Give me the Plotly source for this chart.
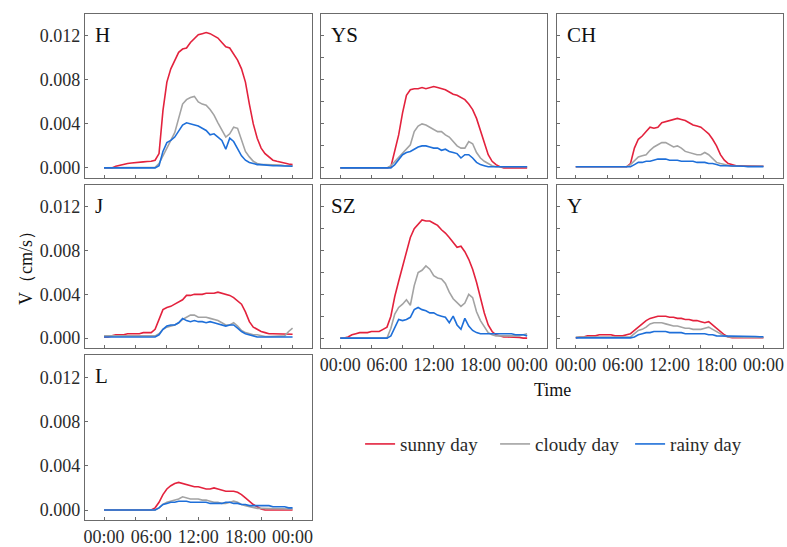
import plotly.graph_objects as go

# ---------------- data (half-hourly, 00:00 .. 24:00) ----------------
hours = [i * 0.5 for i in range(49)]
panels = ["H", "YS", "CH", "J", "SZ", "Y", "L"]

H_sunny = [0, 0, 0, 0.00015, 0.00025, 0.00032, 0.0004, 0.00045, 0.0005, 0.00052,
           0.00055, 0.00058, 0.0006, 0.0007, 0.0013, 0.0052, 0.0078, 0.0090, 0.0098, 0.0105,
           0.0108, 0.0109, 0.0114, 0.0118, 0.0121, 0.0122, 0.0123, 0.0122, 0.0120, 0.0118,
           0.0114, 0.0110, 0.0109, 0.0104, 0.0098, 0.0090, 0.0078, 0.0058, 0.0040, 0.0027,
           0.0018, 0.0013, 0.0010, 0.0007, 0.0006, 0.0005, 0.0004, 0.00035, 0.0003]
H_cloudy = [0, 0, 0, 0, 0, 0, 0, 0, 0, 0,
            0, 0, 0, 0.00005, 0.0004, 0.0011, 0.0017, 0.0024, 0.0032, 0.0045,
            0.0058, 0.0062, 0.0064, 0.0065, 0.0060, 0.0058, 0.0057, 0.0053, 0.0048, 0.0041,
            0.0034, 0.0028, 0.0031, 0.0037, 0.0036, 0.0025, 0.0015, 0.0010, 0.0006, 0.0004,
            0.0003, 0.0003, 0.0003, 0.0003, 0.00025, 0.00025, 0.0002, 0.0002, 0.0002]
H_rainy = [0, 0, 0, 0, 0, 0, 0, 0, 0, 0,
           0, 0, 0, 0, 0.0002, 0.0015, 0.0023, 0.0025, 0.0028, 0.0034,
           0.0039, 0.0041, 0.0040, 0.0039, 0.0038, 0.0036, 0.0034, 0.0030, 0.0031, 0.0028,
           0.0025, 0.0017, 0.0027, 0.0024, 0.0017, 0.0011, 0.0007, 0.0005, 0.0004, 0.0003,
           0.0003, 0.00025, 0.00025, 0.0002, 0.0002, 0.0002, 0.00015, 0.00015, 0.00015]

YS_sunny = [0, 0, 0, 0, 0, 0, 0, 0, 0, 0,
            0, 0, 0, 0.0001, 0.0015, 0.0030, 0.0050, 0.0066, 0.0071, 0.0072,
            0.0072, 0.0073, 0.0072, 0.0073, 0.0074, 0.0073, 0.0072, 0.0071, 0.0069, 0.0067,
            0.0066, 0.0064, 0.0062, 0.0058, 0.0053, 0.0045, 0.0034, 0.0022, 0.0012, 0.0006,
            0.0003, 0.0001, 0, 0, 0, 0, 0, 0, 0]
YS_cloudy = [0, 0, 0, 0, 0, 0, 0, 0, 0, 0,
             0, 0, 0, 0.0002, 0.0006, 0.0010, 0.0014, 0.0017, 0.0021, 0.0033,
             0.0038, 0.0040, 0.0039, 0.0037, 0.0035, 0.0033, 0.0033, 0.0030, 0.0028, 0.0024,
             0.0020, 0.0018, 0.0018, 0.0024, 0.0022, 0.0014, 0.0009, 0.0006, 0.0004, 0.0002,
             0.0001, 0.0001, 0.0001, 0.0001, 0.0001, 0.0001, 0.0001, 0.0001, 0.0001]
YS_rainy = [0, 0, 0, 0, 0, 0, 0, 0, 0, 0,
            0, 0, 0, 0, 0.0003, 0.0008, 0.0012, 0.0014, 0.0015, 0.0017,
            0.0019, 0.0020, 0.0020, 0.0019, 0.0018, 0.0018, 0.0016, 0.0017, 0.0015, 0.0014,
            0.0013, 0.0009, 0.0012, 0.0012, 0.0009, 0.0005, 0.0003, 0.0002, 0.0001, 0.0001,
            0.0001, 0.0001, 0.0001, 0.0001, 0.0001, 0.0001, 0.0001, 0.0001, 0.0001]

CH_sunny = [0.0001, 0.0001, 0.0001, 0.0001, 0.0001, 0.0001, 0.0001, 0.0001, 0.0001, 0.0001,
            0.0001, 0.0001, 0.0001, 0.0001, 0.0004, 0.0018, 0.0026, 0.0029, 0.0033, 0.0037,
            0.0036, 0.0037, 0.0041, 0.0042, 0.0043, 0.0044, 0.0045, 0.0044, 0.0043, 0.0041,
            0.0039, 0.0038, 0.0037, 0.0034, 0.0031, 0.0026, 0.0020, 0.0012, 0.0007, 0.0004,
            0.0003, 0.0002, 0.0002, 0.0002, 0.00015, 0.00015, 0.00015, 0.00015, 0.00015]
CH_cloudy = [0.0001, 0.0001, 0.0001, 0.0001, 0.0001, 0.0001, 0.0001, 0.0001, 0.0001, 0.0001,
             0.0001, 0.0001, 0.0001, 0.0001, 0.0003, 0.0007, 0.0010, 0.0011, 0.0012, 0.0016,
             0.0019, 0.0021, 0.0023, 0.0023, 0.0021, 0.0019, 0.0020, 0.0018, 0.0015, 0.0014,
             0.0013, 0.0012, 0.0012, 0.0014, 0.0012, 0.0008, 0.0005, 0.0004, 0.0003, 0.0002,
             0.00015, 0.00015, 0.00015, 0.00015, 0.00015, 0.00015, 0.00015, 0.00015, 0.00015]
CH_rainy = [0.0001, 0.0001, 0.0001, 0.0001, 0.0001, 0.0001, 0.0001, 0.0001, 0.0001, 0.0001,
            0.0001, 0.0001, 0.0001, 0.0001, 0.0001, 0.0003, 0.0005, 0.0005, 0.0006, 0.0006,
            0.0007, 0.0008, 0.0008, 0.0008, 0.0007, 0.0007, 0.0007, 0.0006, 0.0006, 0.0006,
            0.0006, 0.0005, 0.0005, 0.0005, 0.0004, 0.0004, 0.0003, 0.0002, 0.0002, 0.0002,
            0.0002, 0.00015, 0.00015, 0.00015, 0.00012, 0.00012, 0.00012, 0.00012, 0.00012]

J_sunny = [0.0001, 0.0001, 0.0002, 0.0003, 0.0003, 0.0003, 0.0004, 0.0004, 0.0004, 0.0004,
           0.0005, 0.0005, 0.0005, 0.0008, 0.0018, 0.0026, 0.0028, 0.0029, 0.0031, 0.0033,
           0.0035, 0.0039, 0.0039, 0.0040, 0.0040, 0.0040, 0.0041, 0.0041, 0.0041, 0.0042,
           0.0041, 0.0040, 0.0039, 0.0037, 0.0034, 0.0031, 0.0024, 0.0015, 0.0010, 0.0008,
           0.0006, 0.0005, 0.0004, 0.0004, 0.0004, 0.00035, 0.00035, 0.00035, 0.00035]
J_cloudy = [0.0002, 0.0002, 0.0002, 0.0002, 0.0002, 0.0002, 0.0002, 0.0002, 0.0002, 0.0002,
            0.0002, 0.0002, 0.0002, 0.0002, 0.0004, 0.0008, 0.0010, 0.0011, 0.0012, 0.0014,
            0.0017, 0.0019, 0.0021, 0.0021, 0.0019, 0.0019, 0.0019, 0.0018, 0.0017, 0.0016,
            0.0014, 0.0012, 0.0012, 0.0014, 0.0011, 0.0007, 0.0005, 0.0004, 0.0003, 0.0003,
            0.0002, 0.00015, 0.00015, 0.00015, 0.00015, 0.00015, 0.0002, 0.0006, 0.0009]
J_rainy = [0.0001, 0.0001, 0.0001, 0.0001, 0.0001, 0.0001, 0.0001, 0.0001, 0.0001, 0.0001,
           0.0001, 0.0001, 0.0001, 0.0001, 0.0003, 0.0008, 0.0011, 0.0012, 0.0012, 0.0014,
           0.0018, 0.0016, 0.0015, 0.0016, 0.0015, 0.0015, 0.0014, 0.0015, 0.0014, 0.0013,
           0.0012, 0.0011, 0.0012, 0.0012, 0.0009, 0.0006, 0.0004, 0.0003, 0.0002, 0.0001,
           0.0001, 0.0001, 0.0001, 0.0001, 0.0001, 0.0001, 0.0001, 0.0001, 0.0001]

SZ_sunny = [0, 0, 0.0001, 0.0003, 0.0004, 0.0005, 0.0005, 0.0005, 0.0006, 0.0006,
            0.0006, 0.0008, 0.0010, 0.0020, 0.0038, 0.0052, 0.0066, 0.0080, 0.0092, 0.0100,
            0.0104, 0.0108, 0.0107, 0.0107, 0.0105, 0.0103, 0.0099, 0.0096, 0.0092, 0.0088,
            0.0083, 0.0084, 0.0079, 0.0072, 0.0063, 0.0051, 0.0036, 0.0023, 0.0012, 0.0006,
            0.0003, 0.0002, 0.0001, 0.0001, 0.0001, 0.00005, 0.00005, 0, 0]
SZ_cloudy = [0, 0, 0, 0, 0, 0, 0, 0, 0, 0,
             0, 0, 0, 0.0009, 0.0022, 0.0028, 0.0031, 0.0035, 0.0030, 0.0048,
             0.0060, 0.0062, 0.0066, 0.0063, 0.0057, 0.0055, 0.0054, 0.0050, 0.0042, 0.0036,
             0.0032, 0.0029, 0.0032, 0.0040, 0.0037, 0.0024, 0.0016, 0.0010, 0.0005, 0.0003,
             0.0002, 0.0002, 0.0002, 0.0002, 0.0002, 0.0002, 0.0002, 0.0003, 0.0004]
SZ_rainy = [0, 0, 0, 0, 0, 0, 0, 0, 0, 0,
            0, 0, 0, 0.0002, 0.0010, 0.0017, 0.0016, 0.0017, 0.0019, 0.0026,
            0.0028, 0.0026, 0.0025, 0.0023, 0.0023, 0.0021, 0.0020, 0.0019, 0.0014, 0.0020,
            0.0012, 0.0008, 0.0018, 0.0011, 0.0007, 0.0005, 0.0004, 0.0004, 0.0004, 0.0004,
            0.0004, 0.0004, 0.0004, 0.0004, 0.0004, 0.0003, 0.0003, 0.0003, 0.0002]

Y_sunny = [0, 0.0001, 0.0001, 0.0002, 0.0002, 0.0002, 0.0003, 0.0003, 0.0003, 0.0003,
           0.0002, 0.0002, 0.0002, 0.0003, 0.0004, 0.0007, 0.0010, 0.0013, 0.0016, 0.0018,
           0.0019, 0.0020, 0.0020, 0.0020, 0.0019, 0.0019, 0.0018, 0.0018, 0.0017, 0.0017,
           0.0016, 0.0016, 0.0015, 0.0014, 0.0015, 0.0012, 0.0009, 0.0006, 0.0003, 0.0001,
           0.00003, 0.00003, 0.00003, 0.00003, 0.00003, 0.00003, 0.00003, 0.00003, 0.00003]
Y_cloudy = [0.0001, 0.0001, 0.0001, 0.0001, 0.0001, 0.0001, 0.0001, 0.0001, 0.0001, 0.0001,
            0.0001, 0.0001, 0.0001, 0.0001, 0.0001, 0.0004, 0.0007, 0.0008, 0.0010, 0.0013,
            0.0014, 0.0014, 0.0014, 0.0013, 0.0012, 0.0011, 0.0011, 0.0010, 0.0009, 0.0009,
            0.0008, 0.0008, 0.0008, 0.0009, 0.0010, 0.0008, 0.0006, 0.0004, 0.0002, 0.0001,
            0.0001, 0.0001, 0.0001, 0.00008, 0.00008, 0.00006, 0.00005, 0.00005, 0.00005]
Y_rainy = [0.00002, 0.00002, 0.00002, 0.00002, 0.00002, 0.00002, 0.00002, 0.00002, 0.00002, 0.00002,
           0.00002, 0.00002, 0.00002, 0.00002, 0.00002, 0.0001, 0.0003, 0.0004, 0.0005, 0.0005,
           0.0006, 0.0006, 0.0006, 0.0006, 0.0005, 0.0005, 0.0005, 0.0005, 0.0004, 0.0004,
           0.0004, 0.0004, 0.0004, 0.0004, 0.0003, 0.0003, 0.0002, 0.0002, 0.0002, 0.0002,
           0.0002, 0.0002, 0.0002, 0.0002, 0.0002, 0.00015, 0.00015, 0.00012, 0.00012]

L_sunny = [0, 0, 0, 0, 0, 0, 0, 0, 0, 0,
           0, 0, 0, 0.0002, 0.0007, 0.0014, 0.0019, 0.0022, 0.0024, 0.0025,
           0.0024, 0.0023, 0.0022, 0.0021, 0.0021, 0.0020, 0.0019, 0.0019, 0.0020, 0.0019,
           0.0018, 0.0017, 0.0017, 0.0017, 0.0016, 0.0014, 0.0011, 0.0008, 0.0005, 0.0003,
           0.0001, 0, 0, 0, 0, 0, 0, 0, 0]
L_cloudy = [0, 0, 0, 0, 0, 0, 0, 0, 0, 0,
            0, 0, 0, 0, 0.0002, 0.0005, 0.0007, 0.0008, 0.0009, 0.0010,
            0.0012, 0.0011, 0.0010, 0.0010, 0.0010, 0.0009, 0.0009, 0.0008, 0.0007, 0.0007,
            0.0006, 0.0006, 0.0007, 0.0008, 0.0007, 0.0005, 0.0004, 0.0003, 0.0002, 0.00015,
            0.00015, 0.00015, 0.00012, 0.00012, 0.0001, 0.0001, 0.0001, 0.0001, 0.0001]
L_rainy = [0, 0, 0, 0, 0, 0, 0, 0, 0, 0,
           0, 0, 0, 0, 0.0002, 0.0005, 0.0006, 0.0007, 0.0007, 0.0008,
           0.0008, 0.0008, 0.0007, 0.0007, 0.0007, 0.0007, 0.0007, 0.0006, 0.0006, 0.0006,
           0.0006, 0.0007, 0.0007, 0.0006, 0.0006, 0.0005, 0.0005, 0.0004, 0.0004, 0.0004,
           0.0004, 0.0004, 0.0004, 0.0003, 0.0003, 0.0003, 0.0003, 0.0002, 0.0002]

series_names = ["sunny day", "cloudy day", "rainy day"]
series_colors = ["#E3223D", "#A3A3A3", "#1E6FD9"]
y_tick_vals = [0, 0.004, 0.008, 0.012]
y_tick_text = ["0.000", "0.004", "0.008", "0.012"]
x_tick_vals = [0, 6, 12, 18, 24]
x_tick_text = ["00:00", "06:00", "12:00", "18:00", "00:00"]
x_minor_vals = [0, 4, 8, 12, 16, 20, 24]
y_minor_vals = [0, 0.002, 0.004, 0.006, 0.008, 0.010, 0.012]

data = {
    "H": [H_sunny, H_cloudy, H_rainy],
    "YS": [YS_sunny, YS_cloudy, YS_rainy],
    "CH": [CH_sunny, CH_cloudy, CH_rainy],
    "J": [J_sunny, J_cloudy, J_rainy],
    "SZ": [SZ_sunny, SZ_cloudy, SZ_rainy],
    "Y": [Y_sunny, Y_cloudy, Y_rainy],
    "L": [L_sunny, L_cloudy, L_rainy],
}
for k, v in data.items():
    for s in v:
        assert len(s) == 49, k

# ---------------- layout ----------------
W, Hh = 787, 547
col_px = [(84, 312), (321, 547), (557, 784)]
row_px = [(14, 180), (187, 352), (359, 526)]
pos = {"H": (0, 0), "YS": (0, 1), "CH": (0, 2),
       "J": (1, 0), "SZ": (1, 1), "Y": (1, 2), "L": (2, 0)}
bottom_panels = {"L", "SZ", "Y"}

FONT = "Liberation Serif, Times New Roman, serif"
AX = "#6b6b6b"
TXT = "#2a2a2a"

fig = go.Figure()
layout = dict(
    width=W, height=Hh, margin=dict(l=0, r=0, t=0, b=0),
    paper_bgcolor="white", plot_bgcolor="white",
    font=dict(family=FONT, size=18, color=TXT),
    showlegend=True,
    legend=dict(orientation="h", x=360 / W, y=1 - 449 / Hh, xanchor="left", yanchor="middle",
                font=dict(family=FONT, size=19, color=TXT), bgcolor="rgba(0,0,0,0)",
                tracegroupgap=0, itemwidth=30, entrywidth=90, entrywidthmode="pixels"),
)
annotations = []
for i, p in enumerate(panels):
    r, c = pos[p]
    ax_id = "" if i == 0 else str(i + 1)
    xa, ya = "x" + ax_id, "y" + ax_id
    for j in range(3):
        fig.add_trace(go.Scatter(
            x=hours, y=data[p][j], mode="lines", name=series_names[j],
            line=dict(color=series_colors[j], width=1.6),
            xaxis=xa, yaxis=ya, showlegend=(i == 0)))
    x0, x1 = col_px[c]
    y0, y1 = row_px[r]
    left = (c == 0)
    layout["xaxis" + ax_id] = dict(
        domain=[x0 / W, x1 / W], anchor=ya, range=[-2.45, 26.5],
        showline=True, mirror=True, linecolor=AX, linewidth=1,
        showgrid=False, zeroline=False,
        tickvals=x_tick_vals, ticktext=x_tick_text, ticks="",
        showticklabels=(p in bottom_panels),
        tickfont=dict(family=FONT, size=18, color=TXT),
        minor=dict(tickvals=x_minor_vals, ticks="inside", ticklen=3, tickcolor=AX, showgrid=False),
    )
    ydict = dict(
        domain=[1 - y1 / Hh, 1 - y0 / Hh], anchor=xa, range=[-0.00092, 0.0140],
        showline=True, mirror=True, linecolor=AX, linewidth=1,
        showgrid=False, zeroline=False,
        tickvals=y_tick_vals, ticktext=y_tick_text,
        ticks="inside", ticklen=3, tickcolor=AX,
        showticklabels=left,
        tickfont=dict(family=FONT, size=18, color=TXT),
    )
    if not left:
        ydict["minor"] = dict(tickvals=y_minor_vals, ticks="inside", ticklen=3, tickcolor=AX, showgrid=False)
    layout["yaxis" + ax_id] = ydict
    annotations.append(dict(
        text=p, x=(x0 + 8) / W, y=1 - (y0 + 21) / Hh, xref="paper", yref="paper",
        xanchor="left", yanchor="middle", showarrow=False,
        font=dict(family=FONT, size=21, color="#111111")))

annotations.append(dict(text="V（cm/s）", x=25 / W, y=1 - 266 / Hh, xref="paper", yref="paper",
                        textangle=-90, showarrow=False, xanchor="center", yanchor="middle",
                        font=dict(family=FONT, size=18, color="#111111")))
annotations.append(dict(text="Time", x=553 / W, y=1 - 394 / Hh, xref="paper", yref="paper",
                        showarrow=False, xanchor="center", yanchor="middle",
                        font=dict(family=FONT, size=18, color="#111111")))
layout["annotations"] = annotations
fig.update_layout(**layout)
fig.write_html("out.html")
